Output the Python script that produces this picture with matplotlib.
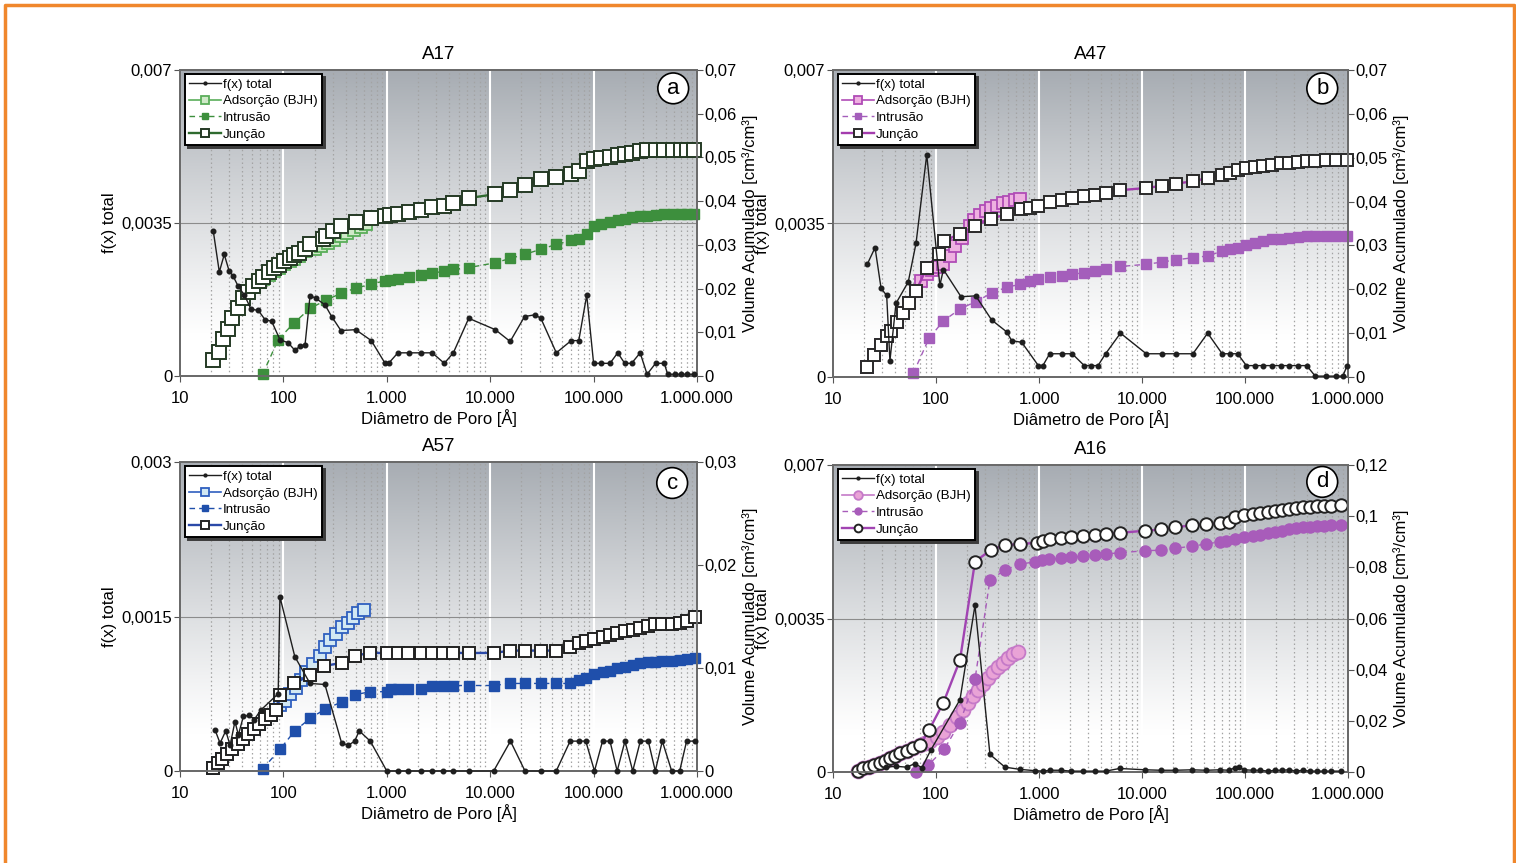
import numpy as np
import matplotlib

matplotlib.use("Agg")
import matplotlib.pyplot as plt
from matplotlib.lines import Line2D
from matplotlib.ticker import FuncFormatter, LogLocator

plt.rcParams["font.family"] = ["Liberation Sans", "DejaVu Sans"]

# ---------------- A17 (a) ----------------
a_fx_d = [21, 24, 26.8, 29.8, 32.7, 36.6, 42, 48.6, 57.2, 66.4, 77, 92.7, 111, 129, 145, 162,
          181, 205, 252, 293, 360, 500, 708, 962, 1040, 1280, 1650, 2150, 2750, 3600, 4400,
          6200, 11200, 15600, 21500, 27100, 30900, 43600, 60700, 71900, 85800, 100000,
          119000, 144000, 171000, 200000, 233000, 282000, 329000, 398000, 482000, 521000,
          607000, 708000, 794000, 926000]
a_fx_v = [0.00331, 0.00238, 0.00278, 0.00241, 0.00228, 0.00205, 0.00185, 0.00153, 0.0015,
          0.00129, 0.00125, 0.00083, 0.00076, 0.00059, 0.00068, 0.00072, 0.00184, 0.00178,
          0.00163, 0.00136, 0.00104, 0.00106, 0.00081, 0.00029, 0.00029, 0.00053, 0.00053,
          0.00053, 0.00053, 0.00029, 0.00053, 0.00132, 0.00106, 0.00079, 0.00136, 0.0014,
          0.00132, 0.00053, 0.00081, 0.00081, 0.00185, 0.00029, 0.00029, 0.00029, 0.00053,
          0.00029, 0.00029, 0.00053, 0.00004, 0.00029, 0.00029, 0.00004, 0.00004, 0.00004,
          0.00004, 0.00004]
a_ads_d = [21, 23.6, 26, 29, 32, 36, 41, 45.7, 51, 58, 64, 72, 81, 91, 102, 115, 128, 143,
           162, 200, 233, 271, 311, 360, 414, 482, 562, 631]
a_ads_v = [0.0036, 0.0054, 0.0085, 0.0107, 0.0132, 0.0155, 0.0176, 0.019, 0.0203, 0.0214,
           0.0223, 0.0232, 0.024, 0.0248, 0.0256, 0.0262, 0.0268, 0.0275, 0.0285, 0.0291,
           0.0297, 0.0304, 0.0312, 0.032, 0.0327, 0.0333, 0.0341, 0.0347]
a_int_d = [63, 89, 126, 182, 261, 360, 500, 708, 962, 1080, 1280, 1650, 2150, 2750, 3600,
           4400, 6200, 11200, 15600, 21500, 30900, 43600, 60700, 71900, 85800, 100000,
           119000, 144000, 171000, 200000, 233000, 282000, 329000, 398000, 482000, 585000,
           708000, 794000, 926000]
a_int_v = [0.0004, 0.0083, 0.0121, 0.0155, 0.0174, 0.0189, 0.0201, 0.021, 0.0218, 0.0219,
           0.0223, 0.0227, 0.0231, 0.0235, 0.024, 0.0244, 0.0248, 0.0259, 0.0269, 0.0278,
           0.029, 0.0301, 0.031, 0.0314, 0.0325, 0.0344, 0.0348, 0.0352, 0.0356, 0.0359,
           0.0363, 0.0365, 0.0367, 0.0369, 0.0371, 0.0371, 0.0371, 0.0371, 0.0371]
a_jun_d = [21, 23.6, 26, 29, 32, 36, 41, 45.7, 51, 58, 64, 72, 81, 91, 102, 115, 128, 143,
           162, 182, 242, 261, 300, 360, 500, 708, 962, 1080, 1280, 1650, 2150, 2750, 3600,
           4400, 6200, 11200, 15600, 21500, 30900, 43600, 60700, 71900, 85800, 100000,
           119000, 144000, 171000, 200000, 233000, 282000, 329000, 398000, 482000, 585000,
           708000, 794000, 926000]
a_jun_v = [0.0036, 0.0054, 0.0085, 0.0107, 0.0132, 0.0155, 0.0178, 0.0193, 0.0206, 0.0218,
           0.0227, 0.0237, 0.0246, 0.0255, 0.0263, 0.0269, 0.0276, 0.0282, 0.0291, 0.0301,
           0.0314, 0.032, 0.0332, 0.0342, 0.0353, 0.0362, 0.0367, 0.0369, 0.0371, 0.0375,
           0.038, 0.0386, 0.039, 0.0396, 0.0407, 0.0416, 0.0425, 0.0437, 0.045, 0.0456,
           0.0463, 0.0469, 0.0492, 0.0496, 0.0498, 0.0502, 0.0506, 0.0507, 0.0511, 0.0515,
           0.0516, 0.0518, 0.0518, 0.0518, 0.0518, 0.0518, 0.0518]

# ---------------- A47 (b) ----------------
b_fx_d = [21.5, 25.6, 29.3, 33.2, 35.7, 40.9, 53.8, 64, 81.3, 109, 118, 175, 243, 347, 485,
          543, 680, 986, 1090, 1270, 1670, 2100, 2750, 3200, 3740, 4430, 6180, 11000, 15600,
          21200, 31200, 43400, 60000, 71100, 84900, 103000, 125000, 151000, 184000, 222000,
          270000, 327000, 397000, 481000, 607000, 764000, 891000, 977000]
b_fx_v = [0.00257, 0.00295, 0.00202, 0.00186, 0.00037, 0.00168, 0.00217, 0.00305, 0.00507,
          0.00209, 0.00245, 0.00183, 0.00185, 0.0013, 0.00103, 0.00083, 0.00079, 0.00026,
          0.00026, 0.00053, 0.00053, 0.00053, 0.00026, 0.00026, 0.00026, 0.00053, 0.001,
          0.00053, 0.00053, 0.00053, 0.00053, 0.001, 0.00053, 0.00053, 0.00053, 0.00026,
          0.00026, 0.00026, 0.00026, 0.00026, 0.00026, 0.00026, 0.00026, 0.00002, 0.00002,
          0.00002, 0.00002, 0.00025]
b_ads_d = [21.2, 25.2, 29.2, 33.2, 36.6, 41.5, 47.5, 54.7, 64, 72, 81.3, 92, 105, 118, 137,
           153, 178, 214, 236, 267, 303, 342, 388, 450, 511, 585, 654]
b_ads_v = [0.0022, 0.005, 0.0073, 0.0093, 0.0105, 0.0126, 0.0147, 0.0168, 0.0196, 0.022,
           0.0235, 0.0245, 0.025, 0.0257, 0.0276, 0.0298, 0.0318, 0.0345, 0.0359, 0.037,
           0.0378, 0.0386, 0.0391, 0.0397, 0.04, 0.0403, 0.0405]
b_int_d = [60.3, 85.5, 118, 171, 243, 347, 486, 654, 820, 986, 1270, 1670, 2100, 2750, 3470,
           4430, 6180, 11000, 15600, 21200, 31200, 43400, 60000, 71100, 84900, 103000,
           125000, 151000, 184000, 222000, 270000, 327000, 397000, 481000, 607000, 764000,
           977000]
b_int_v = [0.0009, 0.0088, 0.0128, 0.0155, 0.0172, 0.0191, 0.0205, 0.0211, 0.0218, 0.0223,
           0.0227, 0.0231, 0.0234, 0.0238, 0.0242, 0.0246, 0.0252, 0.0257, 0.0262, 0.0267,
           0.0272, 0.0276, 0.0287, 0.0291, 0.0295, 0.0302, 0.0306, 0.031, 0.0314, 0.0315,
           0.0318, 0.032, 0.0321, 0.0321, 0.0322, 0.0322, 0.0322]
b_jun_d = [21.2, 25.2, 29.2, 33.2, 36.6, 41.5, 47.5, 54.7, 64, 81.3, 108, 120, 171, 239, 342,
           486, 664, 820, 986, 1270, 1670, 2100, 2750, 3470, 4430, 6180, 11000, 15600, 21200,
           31200, 43400, 60000, 71100, 84900, 103000, 125000, 151000, 184000, 222000, 270000,
           327000, 397000, 481000, 607000, 764000, 977000]
b_jun_v = [0.0022, 0.005, 0.0073, 0.0093, 0.0105, 0.0126, 0.0147, 0.0168, 0.0196, 0.0249,
           0.0281, 0.031, 0.0327, 0.0345, 0.0361, 0.0371, 0.0383, 0.0386, 0.0389, 0.0398,
           0.0404, 0.0408, 0.0412, 0.0414, 0.042, 0.0426, 0.0431, 0.0436, 0.0441, 0.0446,
           0.0454, 0.0461, 0.0465, 0.0471, 0.0476, 0.0479, 0.0482, 0.0484, 0.0488, 0.0489,
           0.0491, 0.0493, 0.0493, 0.0494, 0.0494, 0.0495]

# ---------------- A57 (c) ----------------
c_fx_d = [21.8, 24.4, 27.7, 30.5, 34, 36.7, 41, 46.5, 52.3, 60.3, 89, 92.6, 129, 181, 252,
          366, 425, 489, 541, 692, 1000, 1290, 1620, 2130, 2720, 3520, 4370, 6280, 10800,
          15700, 21700, 30700, 43500, 59300, 71900, 84000, 102000, 122000, 144000, 169000,
          201000, 239000, 283000, 338000, 395000, 462000, 569000, 680000, 793000, 962000]
c_fx_v = [0.0004, 0.00027, 0.00039, 0.00025, 0.00048, 0.00035, 0.00053, 0.00054, 0.0005,
          0.00059, 0.00075, 0.00169, 0.00111, 0.00085, 0.00084, 0.00027, 0.00025, 0.00029,
          0.00039, 0.00029, 0, 0, 0, 0, 0, 0, 0, 0, 0, 0.00029, 0, 0, 0, 0.00029, 0.00029,
          0.00029, 0, 0.00029, 0.00029, 0, 0.00029, 0, 0.00029, 0.00029, 0, 0.00029, 0, 0,
          0.00029, 0.00029]
c_ads_d = [21, 23.1, 25.7, 28.7, 32.1, 36.1, 40.4, 45.8, 52, 58.5, 66.4, 75.9, 84, 93, 104,
           117, 131, 147, 165, 193, 225, 253, 284, 324, 367, 419, 470, 528, 607]
c_ads_v = [0.00026, 0.00075, 0.00117, 0.00165, 0.0021, 0.00262, 0.00307, 0.00359, 0.00408,
           0.00456, 0.00502, 0.00544, 0.0059, 0.0064, 0.0068, 0.0075, 0.0081, 0.0088,
           0.0096, 0.0104, 0.0112, 0.012, 0.0127, 0.0133, 0.014, 0.0144, 0.0149, 0.0153,
           0.0156]
c_int_d = [63, 92.6, 129, 181, 252, 366, 489, 692, 1000, 1100, 1290, 1620, 2130, 2720, 3520,
           4370, 6280, 10800, 15700, 21700, 30700, 43500, 59300, 71900, 84000, 102000,
           122000, 144000, 169000, 201000, 239000, 283000, 338000, 395000, 462000, 569000,
           680000, 793000, 962000]
c_int_v = [0.0002, 0.0021, 0.0039, 0.0051, 0.006, 0.0067, 0.0074, 0.0077, 0.0077, 0.008,
           0.008, 0.008, 0.008, 0.0083, 0.0083, 0.0083, 0.0083, 0.0083, 0.0085, 0.0085,
           0.0085, 0.0085, 0.0085, 0.0088, 0.009, 0.0094, 0.0096, 0.0097, 0.01, 0.0101,
           0.0103, 0.0105, 0.0106, 0.0106, 0.0107, 0.0107, 0.0108, 0.0109, 0.011]
c_jun_d = [21, 23.1, 25.7, 28.7, 32.1, 36.1, 40.4, 45.8, 52, 58.5, 66.4, 75.9, 84, 92.6, 127,
           181, 249, 366, 489, 692, 1000, 1290, 1620, 2130, 2720, 3520, 4370, 6280, 10800,
           15700, 21700, 30700, 43500, 59300, 71900, 84000, 102000, 122000, 144000, 169000,
           201000, 239000, 283000, 338000, 395000, 462000, 569000, 680000, 793000, 962000]
c_jun_v = [0.00026, 0.00075, 0.00117, 0.00165, 0.0021, 0.00262, 0.00307, 0.00359, 0.00408,
           0.00456, 0.00502, 0.00544, 0.0059, 0.00738, 0.0085, 0.0093, 0.0102, 0.0105,
           0.0112, 0.01146, 0.01146, 0.01146, 0.01146, 0.01146, 0.01146, 0.01146, 0.01146,
           0.01146, 0.01146, 0.01169, 0.01169, 0.01169, 0.01169, 0.01208, 0.0124, 0.0126,
           0.01283, 0.01305, 0.01322, 0.01338, 0.01357, 0.0137, 0.0139, 0.01412, 0.01429,
           0.01429, 0.01429, 0.01435, 0.01461, 0.01494]

# ---------------- A16 (d) ----------------
d_fx_d = [32.6, 41, 52, 62, 73, 89, 171, 239, 334, 468, 654, 914, 1100, 1285, 1622, 2045,
          2683, 3518, 4436, 6050, 10800, 15300, 20900, 30700, 41900, 57000, 69200, 80800,
          88000, 98100, 119000, 139000, 169000, 197000, 230000, 268000, 313000, 366000,
          427000, 498000, 582000, 679000, 857000]
d_fx_v = [0.00011, 0.00013, 0.00011, 0.00019, 0.0001, 0.0005, 0.00165, 0.0038, 0.0004,
          0.00011, 0.00006, 0.00003, 0.00002, 0.00004, 0.00004, 0.00002, 0.00002, 0.00002,
          0.00002, 0.00008, 0.00005, 0.00004, 0.00004, 0.00005, 0.00004, 0.00005, 0.00004,
          0.0001, 0.00011, 0.00005, 0.00004, 0.00004, 0.00002, 0.00004, 0.00004, 0.00005,
          0.00002, 0.00004, 0.00002, 0.00002, 0.00002, 0.00002, 0.00002]
d_ads_d = [17.4, 19.7, 22.4, 25.2, 28.6, 32, 35.8, 40, 44.7, 52, 60.3, 70, 78, 87.5, 102,
           118, 137, 159, 184, 206, 230, 258, 288, 322, 360, 403, 450, 503, 562, 629]
d_ads_v = [0.0005, 0.0014, 0.0021, 0.0027, 0.0036, 0.0044, 0.0054, 0.0063, 0.0073, 0.0083,
           0.0093, 0.0104, 0.0112, 0.012, 0.0135, 0.0155, 0.0184, 0.0214, 0.0242, 0.0271,
           0.0297, 0.0321, 0.0344, 0.0367, 0.039, 0.0409, 0.0427, 0.0444, 0.046, 0.047]
d_int_d = [64, 84, 120, 171, 239, 334, 468, 654, 914, 1060, 1237, 1622, 2045, 2683, 3518,
           4436, 6050, 10800, 15300, 20900, 30700, 41900, 57000, 65500, 80800, 98100,
           119000, 139000, 169000, 197000, 230000, 268000, 313000, 366000, 427000, 498000,
           582000, 679000, 857000]
d_int_v = [0, 0.0027, 0.0089, 0.0193, 0.0362, 0.075, 0.079, 0.0812, 0.0822, 0.0828, 0.0831,
           0.0835, 0.0839, 0.0844, 0.0848, 0.0852, 0.0857, 0.0865, 0.0867, 0.0874, 0.0883,
           0.0891, 0.09, 0.0904, 0.0909, 0.0917, 0.0922, 0.0926, 0.0933, 0.0939, 0.0943,
           0.0948, 0.0952, 0.0956, 0.0959, 0.0961, 0.0962, 0.0964, 0.0965]
d_jun_d = [17.4, 19.7, 22.4, 25.2, 28.6, 32, 35.8, 40, 44.7, 52, 60.3, 70, 85.6, 118, 171,
           239, 340, 468, 654, 950, 1100, 1285, 1622, 2045, 2683, 3518, 4436, 6050, 10800,
           15300, 20900, 30700, 41900, 57000, 69200, 80800, 98100, 119000, 139000, 169000,
           197000, 230000, 268000, 313000, 366000, 427000, 498000, 582000, 679000, 857000]
d_jun_v = [0.0005, 0.0014, 0.0021, 0.0027, 0.0036, 0.0044, 0.0054, 0.0063, 0.0073, 0.0083,
           0.0093, 0.0106, 0.0164, 0.0271, 0.0438, 0.0822, 0.0868, 0.0887, 0.0891, 0.0896,
           0.0904, 0.0909, 0.0913, 0.092, 0.0922, 0.0926, 0.093, 0.0935, 0.0943, 0.0948,
           0.0956, 0.0965, 0.0969, 0.0972, 0.0978, 0.0995, 0.1004, 0.1008, 0.1013, 0.1017,
           0.1021, 0.1024, 0.1027, 0.103, 0.1034, 0.1037, 0.104, 0.1041, 0.1041, 0.1043]

x_ticks = [10, 100, 1000, 10000, 100000, 1000000]
legend_labels = ["f(x) total", "Adsorção (BJH)", "Intrusão", "Junção"]


def comma_fmt(v, pos=None):
    if abs(v) < 1e-12:
        return "0"
    return f"{round(v, 6):g}".replace(".", ",")


def thousands_fmt(v, pos=None):
    return f"{int(round(v)):,}".replace(",", ".")


def gradient_image(n=256):
    depth = np.linspace(0, 1, n)[:, None]
    s = np.clip(1 - depth / 0.88, 0, 1) ** 1.15
    gray = np.array([0.655, 0.675, 0.70])
    img = 1 - s[..., None] * (1 - gray)
    return np.repeat(img, 2, axis=1)


def draw_panel(fig, rect, title, letter, series, st, left_max, right_max, right_step):
    fx_d, fx_v, ads_d, ads_v, int_d, int_v, jun_d, jun_v = series
    mk = st["marker"]

    bg = fig.add_axes(rect, zorder=0)
    bg.imshow(gradient_image(), aspect="auto", extent=[0, 1, 0, 1], interpolation="bilinear")
    bg.set_axis_off()

    ax = fig.add_axes(rect, zorder=2)
    ax2 = ax.twinx()
    ax2.set_zorder(1)
    ax.patch.set_visible(False)

    ax.set_xscale("log")
    ax.set_xlim(10, 1e6)
    ax.xaxis.set_minor_locator(LogLocator(base=10, subs=np.arange(2, 10)))
    ax.set_xticks(x_ticks)
    ax.xaxis.set_major_formatter(FuncFormatter(thousands_fmt))
    ax.tick_params(axis="x", which="minor", length=0, labelbottom=False)
    ax.tick_params(axis="x", which="major", direction="out", length=4, pad=7, labelsize=12,
                   color="#555555")

    # grid lives on the lower (volume) axes so the series sit on top of it
    ax2.xaxis.set_visible(True)
    ax2.tick_params(axis="x", which="both", bottom=False, top=False,
                    labelbottom=False, labeltop=False)
    ax2.set_axisbelow(True)
    ax2.grid(axis="x", which="major", color="white", lw=1.5)
    ax2.grid(axis="x", which="minor", color="#a3a3a3", lw=0.9, ls=(0, (1.2, 2.2)))
    ax2.axhline(right_max / 2, color="#8c8c8c", lw=0.8, zorder=1)

    ax.set_ylim(0, left_max)
    ax.set_yticks([0, left_max / 2, left_max])
    ax.yaxis.set_major_formatter(FuncFormatter(comma_fmt))
    ax.tick_params(axis="y", direction="out", length=4, pad=1.5, labelsize=12,
                   color="#555555")

    ax2.set_ylim(0, right_max)
    n_steps = int(round(right_max / right_step))
    ax2.set_yticks([right_step * k for k in range(n_steps + 1)])
    ax2.yaxis.set_major_formatter(FuncFormatter(comma_fmt))
    ax2.tick_params(axis="y", direction="out", length=4, pad=1.5, labelsize=12,
                    color="#555555")

    for a in (ax, ax2):
        for sp in a.spines.values():
            sp.set_color("#6a6a6a")
            sp.set_linewidth(1.3)

    ads, = ax2.plot(ads_d, ads_v, color=st["ads_edge"], lw=1.2, marker=mk, ms=st["ads_ms"],
                    mfc=st["ads_fill"], mec=st["ads_edge"], mew=1.3, zorder=3, clip_on=False)
    intr, = ax2.plot(int_d, int_v, color=st["int"], lw=1.0, ls=(0, (4, 3)), marker=mk,
                     ms=st["int_ms"], mfc=st["int"], mec=st["int"], zorder=4, clip_on=False)
    jun, = ax2.plot(jun_d, jun_v, color=st["jun_line"], lw=1.7, marker=mk, ms=st["jun_ms"],
                    mfc="white", mec=st["jun_edge"], mew=1.4, zorder=5, clip_on=False)
    fx, = ax.plot(fx_d, fx_v, color="#1e1e1e", lw=1.0, marker="o", ms=3.3, zorder=6,
                  clip_on=False)

    ax.set_title(title, fontsize=13.5, pad=8)
    ax.set_xlabel("Diâmetro de Poro [Å]", fontsize=12, labelpad=2)
    ax.set_ylabel("f(x) total", fontsize=12, labelpad=3)
    ax2.set_ylabel("Volume Acumulado [cm³/cm³]", fontsize=12, labelpad=3.5)

    leg = ax.legend([fx, ads, intr, jun], legend_labels, loc="upper left",
                    bbox_to_anchor=(0.004, 0.996), fontsize=9.6, frameon=True,
                    fancybox=False, edgecolor="black", framealpha=1,
                    shadow={"color": "#3c3c3c", "alpha": 1}, handlelength=2.4,
                    handletextpad=0.1, borderpad=0.35, labelspacing=0.32,
                    markerscale=0.62, borderaxespad=0.2)
    leg.get_frame().set_linewidth(1.4)
    leg.set_zorder(9)

    ax.text(st["letter_xy"][0], st["letter_xy"][1], letter, transform=ax.transAxes,
            ha="center", va="center", fontsize=16, zorder=10,
            bbox=dict(boxstyle="circle,pad=0.22", fc="white", ec="black", lw=1.2))
    return ax, ax2


fig = plt.figure(figsize=(15.16, 8.63), dpi=100)
W, H = 1516, 863

styles = {
    "a": dict(marker="s", ads_fill="#cfe9c8", ads_edge="#5aae5a", ads_ms=9,
              int="#3d8f3d", int_ms=7, jun_line="#2f6b2f", jun_edge="#253a25", jun_ms=9.5,
              letter_xy=(0.954, 0.94)),
    "b": dict(marker="s", ads_fill="#eeb0e0", ads_edge="#b04cb6", ads_ms=9,
              int="#a45ebb", int_ms=7.5, jun_line="#a43cae", jun_edge="#2a2a2a", jun_ms=9,
              letter_xy=(0.95, 0.94)),
    "c": dict(marker="s", ads_fill="#d2e8f3", ads_edge="#2f5fbf", ads_ms=9,
              int="#1f4fab", int_ms=6.5, jun_line="#2b49a8", jun_edge="#222222", jun_ms=9,
              letter_xy=(0.952, 0.932)),
    "d": dict(marker="o", ads_fill="#e9a3d6", ads_edge="#c57ac8", ads_ms=10,
              int="#a85cba", int_ms=8, jun_line="#a144b2", jun_edge="#222222", jun_ms=9,
              letter_xy=(0.95, 0.945)),
}

draw_panel(fig, [180 / W, 1 - 376 / H, 517 / W, 306 / H], "A17", "a",
           (a_fx_d, a_fx_v, a_ads_d, a_ads_v, a_int_d, a_int_v, a_jun_d, a_jun_v),
           styles["a"], 0.007, 0.07, 0.01)
draw_panel(fig, [833 / W, 1 - 377 / H, 515 / W, 307 / H], "A47", "b",
           (b_fx_d, b_fx_v, b_ads_d, b_ads_v, b_int_d, b_int_v, b_jun_d, b_jun_v),
           styles["b"], 0.007, 0.07, 0.01)
draw_panel(fig, [180 / W, 1 - 771 / H, 517 / W, 309 / H], "A57", "c",
           (c_fx_d, c_fx_v, c_ads_d, c_ads_v, c_int_d, c_int_v, c_jun_d, c_jun_v),
           styles["c"], 0.003, 0.03, 0.01)
draw_panel(fig, [833 / W, 1 - 772 / H, 515 / W, 307 / H], "A16", "d",
           (d_fx_d, d_fx_v, d_ads_d, d_ads_v, d_int_d, d_int_v, d_jun_d, d_jun_v),
           styles["d"], 0.007, 0.12, 0.02)

# orange frame (open at the bottom, as in the source page)
orange = "#f0872c"
fx0, fx1, fy1 = 5 / W, 1514 / W, 1 - 5 / H
fig.add_artist(Line2D([fx0, fx0, fx1, fx1], [0, fy1, fy1, 0], transform=fig.transFigure,
                      color=orange, lw=2.5))

fig.savefig("out.png", dpi=100)
